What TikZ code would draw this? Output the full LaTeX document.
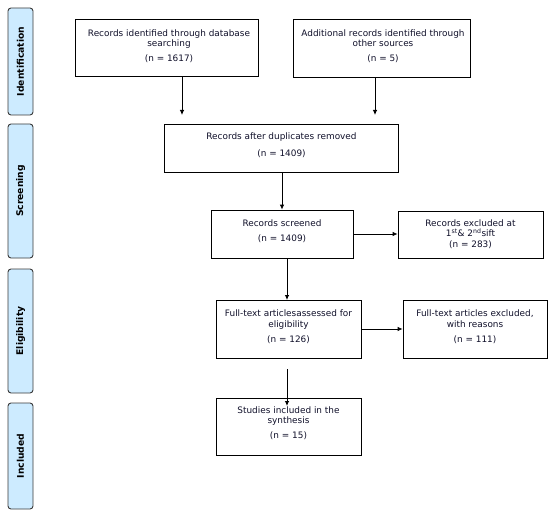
\documentclass[tikz,border=0pt]{standalone}
\usepackage{fontspec}
\setmainfont{DejaVu Sans}
\usetikzlibrary{arrows.meta}
\definecolor{phasefill}{HTML}{CDEBFF}
\definecolor{phaseline}{HTML}{3A3A3A}
\definecolor{txtcol}{HTML}{10102A}
\tikzset{
  phase/.style={draw=phaseline, line width=0.9pt, fill=phasefill, rounded corners=3pt,
    minimum width=25pt, inner sep=0pt},
  phaselabel/.style={rotate=90, font=\bfseries\fontsize{9.2}{10}\selectfont, text=black},
  box/.style={draw=black, line width=0.8pt, inner sep=0pt},
  txt/.style={align=center, font=\fontsize{8.9}{10.5}\selectfont, text=txtcol, inner sep=0pt},
  arr/.style={draw=black, line width=0.8pt, -{Latex[length=5pt,width=4.5pt]}}
}
\begin{document}
\begin{tikzpicture}[x=1pt,y=-1pt]
\useasboundingbox (0,0) rectangle (556,513);
% phase bars
\node[phase, minimum height=107pt] (ident) at (20.5,61.5) {};
\node[phaselabel] at (ident.center) {Identification};
\node[phase, minimum height=134pt] (screen) at (20.5,191) {};
\node[phaselabel] at (screen.center) {Screening};
\node[phase, minimum height=124pt] (elig) at (20.5,331) {};
\node[phaselabel] at (elig.center) {Eligibility};
\node[phase, minimum height=106pt] (incl) at (20.5,456) {};
\node[phaselabel] at (incl.center) {Included};
% boxes
\node[box, minimum width=183pt, minimum height=57pt] (b1) at (166.5,47.5) {};
\node[txt, anchor=north] (t1) at (169,29.5) {Records identified through database\\searching\\[4.5pt](n = 1617)};
\node[box, minimum width=177pt, minimum height=58pt] (b2) at (381.5,48) {};
\node[txt, anchor=north] (t2) at (383,29.5) {Additional records identified through\\other sources\\[4.5pt](n = 5)};
\node[box, minimum width=234pt, minimum height=48pt] (b3) at (281.5,148) {};
\node[txt, anchor=north] (t3) at (281.5,133) {Records after duplicates removed\\[6.5pt](n = 1409)};
\node[box, minimum width=142pt, minimum height=48pt] (b4) at (282,234) {};
\node[txt, anchor=north] (t4) at (282,220) {Records screened\\[4.5pt](n = 1409)};
\node[box, minimum width=145pt, minimum height=47pt] (b5) at (470.5,234.5) {};
\node[txt, anchor=north] (t5) at (470.5,219.5) {Records excluded at\\1\textsuperscript{st}\& 2\textsuperscript{nd}sift\\(n = 283)};
\node[box, minimum width=145pt, minimum height=58pt] (b6) at (288.5,329) {};
\node[txt, anchor=north] (t6) at (288.5,310) {Full-text articlesassessed for\\eligibility\\[5pt](n = 126)};
\node[box, minimum width=144pt, minimum height=58pt] (b7) at (475,329) {};
\node[txt, anchor=north] (t7) at (475,310) {Full-text articles excluded,\\with reasons\\[5pt](n = 111)};
\node[box, minimum width=145pt, minimum height=57pt] (b8) at (288.5,426.5) {};
\node[txt, anchor=north] (t8) at (288.5,406.5) {Studies included in the\\synthesis\\[4.5pt](n = 15)};
% arrow end points
\coordinate (a1) at (182,115);
\coordinate (a2) at (375,115);
\coordinate (a3) at (282,0);
\coordinate (a4) at (287,300);
\coordinate (c1) at (287,369);
\coordinate (c2) at (287,406);
% connectors
\draw[arr] (b1.south -| a1) -- (a1);
\draw[arr] (b2.south -| a2) -- (a2);
\draw[arr] (b3.south -| a3) -- (b4.north -| a3);
\draw[arr] (b4.east) -- (b4.east -| b5.west);
\draw[arr] (b4.south -| a4) -- (a4);
\draw[arr] (b6.east) -- (b6.east -| b7.west);
\draw[arr] (c1) -- (c2);
\end{tikzpicture}
\end{document}
